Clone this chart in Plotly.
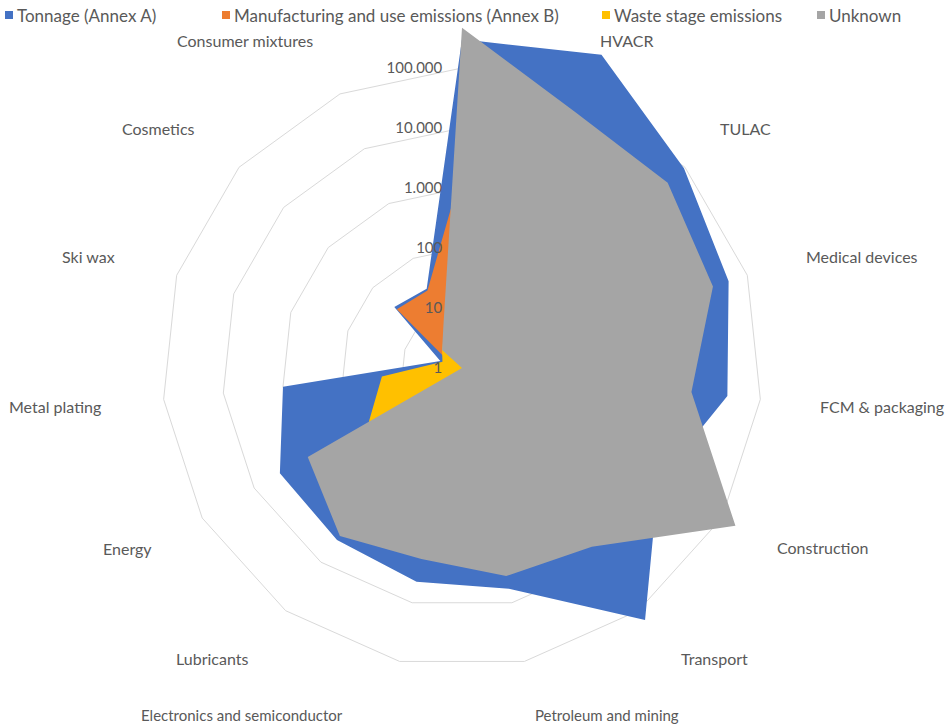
import plotly.graph_objects as go

# Sectors in clockwise order, starting from the top spoke
categories = [" ", "HVACR", "TULAC", "Medical devices", "FCM & packaging",
              "Construction", "Transport", "Petroleum and mining",
              "Electronics and semiconductor", "Lubricants", "Energy",
              "Metal plating", "Ski wax", "Cosmetics", "Consumer mixtures"]

series_names = ["Tonnage (Annex A)", "Manufacturing and use emissions (Annex B)",
                "Waste stage emissions", "Unknown"]

tonnage = [300000, 520000, 95000, 47000, 28000, 6000, 155000, 5800,
           4400, 3500, 3200, 1000, 2.4, 33, 28]
manufacturing = [2000, 500, 300, 200, 5, 100, 200, 50,
                 100, 20, 10, 5, 1.5, 29, 26]
waste = [100, 30, 20, 20, 5, 20, 30, 20,
         20, 40, 62, 22, 2.2, 2.8, 5]
unknown = [470000, 46000, 41000, 25000, 7000, 183000, 4800, 3500,
           1800, 2900, 930, 1, 1, 2.8, 5.8]

tick_values = [1, 10, 100, 1000, 10000, 100000]
tick_labels = ["1", "10", "100", "1.000", "10.000", "100.000"]

colors = ["#4472C4", "#ED7D31", "#FFC000", "#A5A5A5"]
text_color = "#595959"
font_family = "Lato"

W, H = 949, 726


def px(x):
    return x / W


def py(y):
    return 1 - y / H


fig = go.Figure()
for name, vals, col in zip(series_names, [tonnage, manufacturing, waste, unknown], colors):
    fig.add_trace(go.Scatterpolar(
        r=vals + vals[:1],
        theta=categories + categories[:1],
        mode="lines",
        fill="toself",
        fillcolor=col,
        line=dict(width=0, color=col),
        name=name,
        showlegend=False,
        hoverinfo="skip",
    ))

# Sector labels around the web: (x, y, font size) in pixels
label_pos = [None, (626, 40, 16), (745, 128, 16), (862, 256, 16), (882, 407, 16),
             (822, 547, 16), (714, 658, 16), (607, 715, 15), (242, 715, 15),
             (212, 658, 16), (127, 548, 16), (55, 407, 16), (88, 256, 16),
             (158, 128, 16), (245, 40, 16)]
annotations = []
for cat, pos in zip(categories, label_pos):
    if pos is None:
        continue
    annotations.append(dict(
        x=px(pos[0]), y=py(pos[1]), xref="paper", yref="paper",
        text=cat, showarrow=False, xanchor="center", yanchor="middle",
        font=dict(family=font_family, size=pos[2], color=text_color)))

# Legend row
legend_x = [5, 222, 602, 817]
shapes = []
for name, col, lx in zip(series_names, colors, legend_x):
    shapes.append(dict(type="rect", xref="paper", yref="paper",
                       x0=px(lx), x1=px(lx + 8), y0=py(19), y1=py(11),
                       fillcolor=col, line=dict(width=0)))
    annotations.append(dict(
        x=px(lx + 10), y=py(15), xref="paper", yref="paper",
        text=name, showarrow=False, xanchor="left", yanchor="middle",
        font=dict(family=font_family, size=17, color=text_color)))

fig.update_layout(
    width=W, height=H,
    margin=dict(l=0, r=0, t=0, b=0),
    paper_bgcolor="white",
    plot_bgcolor="white",
    showlegend=False,
    polar=dict(
        domain=dict(x=[px(117), px(807)], y=[py(713), py(23)]),
        gridshape="linear",
        bgcolor="rgba(0,0,0,0)",
        radialaxis=dict(
            type="log", range=[0, 5.75],
            tickvals=tick_values, ticktext=tick_labels,
            angle=90, side="counterclockwise", tickangle=90,
            showline=False, gridcolor="#D9D9D9", gridwidth=1,
            ticks="outside", ticklen=14, tickcolor="rgba(0,0,0,0)",
            tickfont=dict(family=font_family, size=15, color=text_color),
            layer="above traces",
        ),
        angularaxis=dict(
            type="category", categoryarray=categories,
            rotation=90, direction="clockwise",
            showgrid=False, showline=False, showticklabels=False, ticks="",
        ),
    ),
    shapes=shapes,
    annotations=annotations,
)

fig.write_html("out.html")
